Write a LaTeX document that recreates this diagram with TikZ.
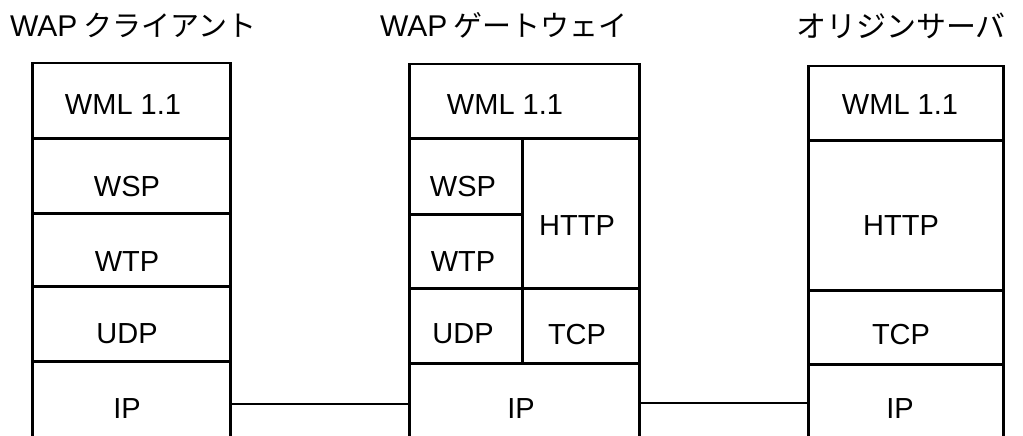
\documentclass[tikz,border=0pt]{standalone}
\usepackage{fontspec}
\setmainfont{Liberation Sans}
\newfontfamily\jpfont{Noto Sans CJK JP}
\begin{document}
\begin{tikzpicture}[x=1pt,y=-1pt,
  cell/.style={draw,line width=2.5pt,rectangle,inner sep=0pt,anchor=north west},
  lbl/.style={inner sep=0pt,anchor=center,font=\fontsize{29}{30}\selectfont},
  ttl/.style={inner sep=0pt,anchor=base west,font=\fontsize{30}{32}\selectfont},
  conn/.style={line width=2pt}]
\clip (0,0) rectangle (1023,436);
% titles
\node[ttl] (tc) at (10,37) {WAP\hspace{6pt}{\jpfont\fontsize{29}{30}\selectfont クライアント}};
\node[ttl] (tg) at (380,37) {WAP\hspace{6pt}{\jpfont\fontsize{29}{30}\selectfont ゲートウェイ}};
\node[ttl] (ts) at (796,38) {{\jpfont\fontsize{30}{32}\selectfont オリジンサーバ}};
% client
\node[cell,minimum width=198pt,minimum height=75pt] (cWML) at (31,62) {};
\node[cell,minimum width=198pt,minimum height=75pt] (cWSP) at (31,137) {};
\node[cell,minimum width=198pt,minimum height=73pt] (cWTP) at (31,212) {};
\node[cell,minimum width=198pt,minimum height=75pt] (cUDP) at (31,285) {};
\node[cell,minimum width=198pt,minimum height=76pt] (cIP) at (31,360) {};
\node[lbl] (lcWML) at (123,105) {WML 1.1};
\node[lbl] (lcWSP) at (127,187) {WSP};
\node[lbl] (lcWTP) at (127,262) {WTP};
\node[lbl] (lcUDP) at (127,334) {UDP};
\node[lbl] (lcIP) at (127,409) {IP};
% gateway
\node[cell,minimum width=230pt,minimum height=74pt] (gWML) at (408,63) {};
\node[cell,minimum width=113pt,minimum height=76pt] (gWSP) at (408,137) {};
\node[cell,minimum width=113pt,minimum height=74pt] (gWTP) at (408,213) {};
\node[cell,minimum width=117pt,minimum height=150pt] (gHTTP) at (521,137) {};
\node[cell,minimum width=113pt,minimum height=75pt] (gUDP) at (408,287) {};
\node[cell,minimum width=117pt,minimum height=75pt] (gTCP) at (521,287) {};
\node[cell,minimum width=230pt,minimum height=74pt] (gIP) at (408,362) {};
\node[lbl] (lgWML) at (505,105) {WML 1.1};
\node[lbl] (lgWSP) at (463,187) {WSP};
\node[lbl] (lgWTP) at (463,262) {WTP};
\node[lbl] (lgHTTP) at (577,226) {HTTP};
\node[lbl] (lgUDP) at (463,334) {UDP};
\node[lbl] (lgTCP) at (577,335) {TCP};
\node[lbl] (lgIP) at (521,409) {IP};
% server
\node[cell,minimum width=195pt,minimum height=74pt] (sWML) at (807,65) {};
\node[cell,minimum width=195pt,minimum height=150pt] (sHTTP) at (807,139) {};
\node[cell,minimum width=195pt,minimum height=74pt] (sTCP) at (807,289) {};
\node[cell,minimum width=195pt,minimum height=73pt] (sIP) at (807,363) {};
\node[lbl] (lsWML) at (900,105) {WML 1.1};
\node[lbl] (lsHTTP) at (901,226) {HTTP};
\node[lbl] (lsTCP) at (901,335) {TCP};
\node[lbl] (lsIP) at (900,409) {IP};
% connectors
\draw[conn] ([yshift=-5pt]cIP.east) -- ([yshift=-4pt]gIP.west);
\draw[conn] ([yshift=-3pt]gIP.east) -- ([yshift=-2.5pt]sIP.west);
\end{tikzpicture}
\end{document}
